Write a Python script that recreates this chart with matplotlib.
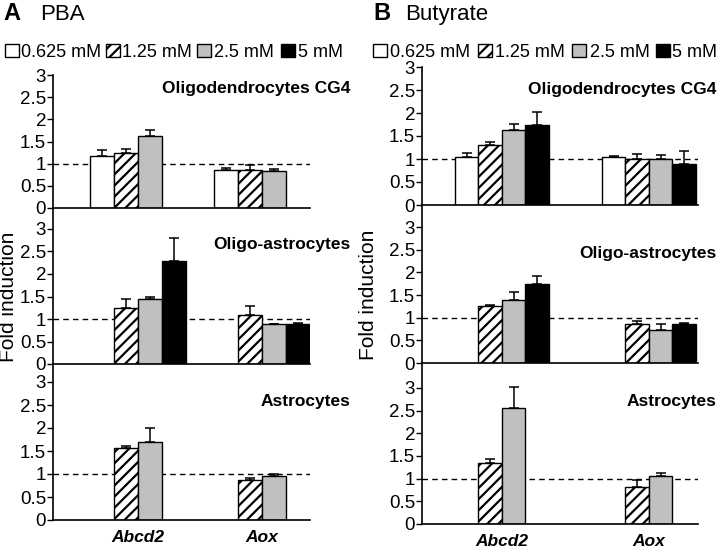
import numpy as np
import matplotlib
matplotlib.use('Agg')
import matplotlib.pyplot as plt
from matplotlib.patches import Rectangle
from matplotlib.lines import Line2D

plt.rcParams['font.family'] = ['Liberation Sans', 'DejaVu Sans']
plt.rcParams['hatch.linewidth'] = 1.6

nan = np.nan
concentrations = ['0.625 mM', '1.25 mM', '2.5 mM', '5 mM']
genes = ['Abcd2', 'Aox']
cells = ['Oligodendrocytes CG4', 'Oligo-astrocytes', 'Astrocytes']

# PBA: [Abcd2 values, Aox values], one entry per concentration
pba_cg4_mean = [[1.18, 1.23, 1.63, nan], [0.85, 0.86, 0.84, nan]]
pba_cg4_err = [[0.13, 0.10, 0.13, nan], [0.05, 0.10, 0.05, nan]]
pba_oligo_mean = [[nan, 1.25, 1.45, 2.28], [nan, 1.10, 0.88, 0.90]]
pba_oligo_err = [[nan, 0.20, 0.03, 0.53], [nan, 0.19, 0.01, 0.02]]
pba_astro_mean = [[nan, 1.56, 1.69, nan], [nan, 0.86, 0.96, nan]]
pba_astro_err = [[nan, 0.04, 0.30, nan], [nan, 0.05, 0.03, nan]]

# Butyrate
but_cg4_mean = [[1.04, 1.30, 1.63, 1.75], [1.05, 1.00, 1.00, 0.89]]
but_cg4_err = [[0.10, 0.07, 0.13, 0.28], [0.02, 0.11, 0.09, 0.28]]
but_oligo_mean = [[nan, 1.25, 1.40, 1.75], [nan, 0.86, 0.72, 0.85]]
but_oligo_err = [[nan, 0.02, 0.17, 0.18], [nan, 0.06, 0.15, 0.03]]
but_astro_mean = [[nan, 1.34, 2.55, nan], [nan, 0.82, 1.06, nan]]
but_astro_err = [[nan, 0.10, 0.48, nan], [nan, 0.16, 0.06, nan]]

yticks = [0, 0.5, 1, 1.5, 2, 2.5, 3]
ytick_labels = ['0', '0.5', '1', '1.5', '2', '2.5', '3']

face_colors = ['white', 'white', '#c0c0c0', 'black']
hatches = [None, '///', None, None]

W, H = 720, 549
fig = plt.figure(figsize=(7.2, 5.49), dpi=100)


def px_rect(left, right, top, bottom):
    return [left / W, 1 - bottom / H, (right - left) / W, (bottom - top) / H]


def draw_panel(ax, means, errs, offset, xlim, show_genes):
    for g, (m_row, e_row) in enumerate(zip(means, errs)):
        for i in range(len(concentrations)):
            m, e = m_row[i], e_row[i]
            if np.isnan(m):
                continue
            x = g * offset + i
            ax.bar(x, m, width=1.0, color=face_colors[i], edgecolor='black',
                   linewidth=1.0, hatch=hatches[i], zorder=2)
            eb = ax.errorbar(x, m, yerr=[[0], [e]], fmt='none',
                             ecolor='black', elinewidth=1.1, capsize=3.5,
                             capthick=1.1, zorder=1)
            for art in eb.lines[1] + eb.lines[2]:
                art.set_clip_on(False)
    ax.axhline(1, color='black', linestyle=(0, (4, 3)), linewidth=1.0,
               zorder=1)
    ax.set_xlim(*xlim)
    ax.set_ylim(0, 3)
    ax.set_yticks(yticks)
    ax.set_yticklabels(ytick_labels)
    ax.tick_params(axis='y', direction='out', length=4, width=1,
                   labelsize=13.5, pad=1)
    for s in ['top', 'right', 'left']:
        ax.spines[s].set_visible(False)
    ax.spines['bottom'].set_linewidth(1.2)
    ax.patch.set_alpha(0)
    if show_genes:
        ax.set_xticks([1.5, offset + 1.5])
        ax.set_xticklabels(genes, fontsize=12.5, fontweight='bold',
                           fontstyle='italic')
        ax.tick_params(axis='x', length=0, pad=7)
    else:
        ax.set_xticks([])


panels = [
    dict(left=53, right=310, rows=[(75, 208), (229, 364), (382, 520)],
         offset=5.2, xlim=(-2.04, 8.7),
         data=[(pba_cg4_mean, pba_cg4_err), (pba_oligo_mean, pba_oligo_err),
               (pba_astro_mean, pba_astro_err)],
         label_right=350, label_base=[93, 249, 406],
         letter='A', name='PBA', letter_x=3, name_x=40, ylabel_x=9,
         legend_sq=[5, 106, 197, 281], legend_tx=[21, 122, 214, 298]),
    dict(left=422, right=698, rows=[(67, 205), (227, 363), (388, 524)],
         offset=6.25, xlim=(-1.9, 9.84),
         data=[(but_cg4_mean, but_cg4_err), (but_oligo_mean, but_oligo_err),
               (but_astro_mean, but_astro_err)],
         label_right=716, label_base=[94, 258, 406],
         letter='B', name='Butyrate', letter_x=373, name_x=405, ylabel_x=368,
         legend_sq=[373, 478, 572, 656], legend_tx=[390, 495, 590, 672]),
]

for p in panels:
    for k, ((top, bottom), (means, errs)) in enumerate(zip(p['rows'], p['data'])):
        ax = fig.add_axes(px_rect(p['left'], p['right'], top, bottom))
        draw_panel(ax, means, errs, p['offset'], p['xlim'], k == 2)
        fig.text(p['label_right'] / W, 1 - p['label_base'][k] / H, cells[k],
                 ha='right', va='baseline', fontsize=12.5, fontweight='bold')

    # continuous left spine through all three rows
    y_top = 1 - p['rows'][0][0] / H
    y_bot = 1 - p['rows'][2][1] / H
    fig.add_artist(Line2D([p['left'] / W, p['left'] / W], [y_bot, y_top],
                          color='black', linewidth=1.2,
                          transform=fig.transFigure))

    fig.text(p['letter_x'] / W, 1 - 20 / H, p['letter'], fontsize=17,
             fontweight='bold', va='baseline')
    fig.text(p['name_x'] / W, 1 - 20 / H, p['name'], fontsize=16,
             va='baseline')

    mid_top, mid_bot = p['rows'][1]
    fig.text(p['ylabel_x'] / W, 1 - (mid_top + mid_bot) / 2 / H,
             'Fold induction', rotation=90, fontsize=15,
             ha='center', va='center')

    # legend
    for i, lab in enumerate(concentrations):
        sq = Rectangle((p['legend_sq'][i] / W, 1 - 57 / H), 14 / W, 13 / H,
                       transform=fig.transFigure, facecolor=face_colors[i],
                       edgecolor='black', linewidth=1.0, hatch=hatches[i])
        fig.add_artist(sq)
        fig.text(p['legend_tx'][i] / W, 1 - 57 / H, lab, fontsize=13,
                 va='baseline')

fig.savefig('out.png', dpi=100)
